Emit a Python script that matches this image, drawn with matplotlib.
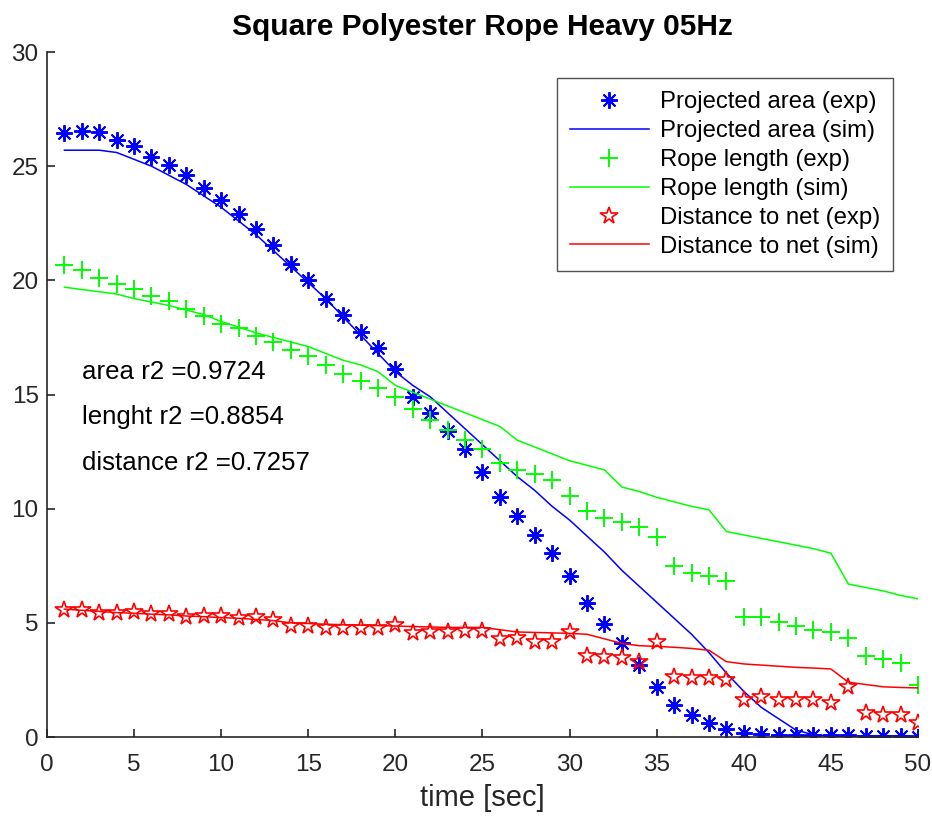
import matplotlib
matplotlib.use('Agg')
import matplotlib.pyplot as plt
import numpy as np

plt.rcParams['font.family'] = ['Liberation Sans', 'DejaVu Sans']

t = np.arange(1, 51)

area_exp = [26.45, 26.55, 26.5, 26.15, 25.9, 25.4, 25.05, 24.6, 24.05, 23.5,
            22.9, 22.25, 21.55, 20.7, 20.0, 19.2, 18.5, 17.75, 17.05, 16.1,
            14.9, 14.2, 13.4, 12.6, 11.6, 10.5, 9.7, 8.85, 8.05, 7.05,
            5.85, 4.95, 4.1, 3.15, 2.2, 1.4, 0.95, 0.6, 0.35, 0.17,
            0.13, 0.1, 0.08, 0.08, 0.07, 0.07, 0.06, 0.05, 0.05, 0.0]
area_sim = [25.7, 25.7, 25.7, 25.6, 25.3, 25.0, 24.6, 24.2, 23.7, 23.2,
            22.6, 22.0, 21.3, 20.6, 19.9, 19.2, 18.4, 17.6, 16.8, 16.0,
            15.4, 14.9, 14.2, 13.5, 12.8, 12.1, 11.4, 10.8, 10.1, 9.5,
            8.8, 8.1, 7.3, 6.6, 5.9, 5.2, 4.5, 3.7, 2.8, 2.0,
            1.3, 0.8, 0.3, 0.1, 0.05, 0.05, 0.05, 0.05, 0.05, 0.05]

len_exp = [20.67, 20.45, 20.1, 19.85, 19.6, 19.3, 19.1, 18.75, 18.45, 18.1,
           17.9, 17.55, 17.3, 16.95, 16.7, 16.3, 15.9, 15.6, 15.3, 14.9,
           14.35, 13.9, 13.45, 13.0, 12.6, 12.0, 11.7, 11.5, 11.25, 10.55,
           9.9, 9.6, 9.4, 9.2, 8.75, 7.5, 7.2, 7.05, 6.85, 5.27,
           5.27, 5.04, 4.86, 4.69, 4.6, 4.34, 3.55, 3.4, 3.25, 2.28]
len_sim = [19.7, 19.6, 19.5, 19.4, 19.2, 19.05, 18.9, 18.7, 18.5, 18.2,
           17.95, 17.7, 17.5, 17.3, 17.1, 16.8, 16.5, 16.3, 16.0, 15.4,
           15.1, 14.8, 14.5, 14.2, 13.9, 13.6, 13.0, 12.7, 12.4, 12.1,
           11.9, 11.7, 10.95, 10.75, 10.5, 10.3, 10.1, 9.95, 9.0, 8.85,
           8.7, 8.55, 8.4, 8.25, 8.05, 6.7, 6.55, 6.4, 6.2, 6.05]

dist_exp = [5.56, 5.56, 5.43, 5.43, 5.48, 5.39, 5.39, 5.26, 5.3, 5.3,
            5.2, 5.26, 5.13, 4.86, 4.86, 4.77, 4.77, 4.77, 4.77, 4.9,
            4.56, 4.6, 4.6, 4.63, 4.64, 4.29, 4.33, 4.16, 4.16, 4.6,
            3.55, 3.5, 3.46, 3.3, 4.16, 2.63, 2.6, 2.6, 2.5, 1.62,
            1.77, 1.6, 1.6, 1.6, 1.5, 2.2, 1.05, 0.97, 0.97, 0.6]
dist_sim = [5.6, 5.55, 5.5, 5.45, 5.42, 5.38, 5.35, 5.3, 5.27, 5.23,
            5.2, 5.15, 5.1, 5.0, 4.97, 4.94, 4.92, 4.9, 4.88, 4.86,
            4.84, 4.82, 4.8, 4.8, 4.8, 4.7, 4.6, 4.58, 4.56, 4.54,
            4.5, 4.3, 4.1, 4.0, 3.97, 3.93, 3.88, 3.8, 3.3, 3.2,
            3.15, 3.1, 3.05, 3.02, 2.98, 2.4, 2.3, 2.2, 2.17, 2.15]

notes = ['area r2 =0.9724', 'lenght r2 =0.8854', 'distance r2 =0.7257']
note_y = [16, 14, 12]

grey = '#262626'

fig = plt.figure(figsize=(9.32, 8.18), dpi=100)
ax = fig.add_axes([0.0504, 0.099, 0.9346, 0.8374])

asterisk = (8, 2, 0)
ax.plot(t, area_exp, linestyle='none', marker=asterisk, ms=12, mew=1.4,
        color='#0000ff', label='Projected area (exp)')
ax.plot(t, area_sim, color='#0000ff', lw=1.1, label='Projected area (sim)')
ax.plot(t, len_exp, linestyle='none', marker='+', ms=13, mew=1.4,
        color='#00ff00', label='Rope length (exp)')
ax.plot(t, len_sim, color='#00ff00', lw=1.1, label='Rope length (sim)')
ax.plot(t, dist_exp, linestyle='none', marker='*', ms=13, mew=1.2,
        mfc='none', color='#ff0000', label='Distance to net (exp)')
ax.plot(t, dist_sim, color='#ff0000', lw=1.1, label='Distance to net (sim)')

for txt, yy in zip(notes, note_y):
    ax.text(2, yy, txt, fontsize=18.6, color='black', va='center')

ax.set_xlim(0, 50)
ax.set_ylim(0, 30)
ax.set_xticks(np.arange(0, 51, 5))
ax.set_yticks(np.arange(0, 31, 5))
ax.spines['top'].set_visible(False)
ax.spines['right'].set_visible(False)
for s in ['left', 'bottom']:
    ax.spines[s].set_color(grey)
    ax.spines[s].set_linewidth(1.2)
ax.tick_params(direction='in', length=6, width=1.2, colors=grey,
               labelsize=17.5)
ax.tick_params(axis='x', pad=12)
ax.tick_params(axis='y', pad=6)

ax.set_xlabel('time [sec]', fontsize=21, color=grey, labelpad=6)
ax.set_title('Square Polyester Rope Heavy 05Hz', fontsize=21.5,
             fontweight='bold', pad=12)

leg = ax.legend(loc='upper right', bbox_to_anchor=(0.9713, 0.962),
                borderaxespad=0, fontsize=17.2, frameon=True, fancybox=False,
                edgecolor=grey, handlelength=3.3, borderpad=0.55,
                labelspacing=0.29, handletextpad=0.45)
leg.get_frame().set_linewidth(1.0)

plt.savefig('out.png', dpi=100)
plt.close()
